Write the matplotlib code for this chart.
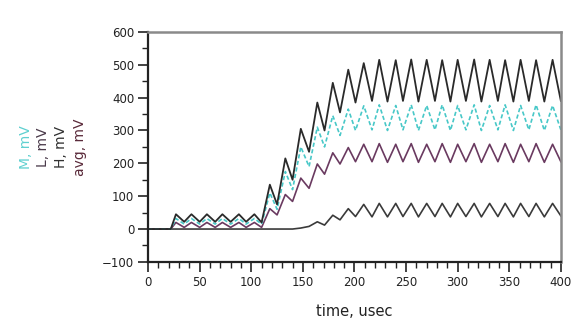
import matplotlib
matplotlib.use("Agg")
import matplotlib.pyplot as plt
from matplotlib.ticker import MultipleLocator

plt.rcParams['font.family'] = ['DejaVu Sans']

# vertex times (usec): start, then alternating peak / trough of the ripple
t = [0, 22,
     27, 35, 42, 50, 57, 65, 72, 80, 88, 95, 103, 110,
     118, 125, 133, 140, 148, 156, 164, 171, 179, 186, 194, 201,
     209, 217, 224, 232, 240, 247, 255, 262, 270, 278, 285, 293,
     300, 308, 316, 323, 331, 339, 346, 354, 361, 369, 376, 384, 392, 400]

h_mv = [0, 0,
        45, 22, 45, 22, 45, 22, 45, 22, 45, 22, 45, 20,
        135, 75, 215, 150, 305, 235, 385, 300, 445, 355, 485, 385,
        505, 390, 515, 388, 514, 390, 516, 388, 515, 390, 514, 388,
        515, 390, 516, 388, 515, 390, 514, 388, 515, 390, 514, 388, 515, 390]

m_mv = [0, 0,
        32, 15, 32, 15, 32, 15, 32, 15, 32, 15, 32, 15,
        110, 60, 175, 120, 250, 190, 310, 250, 345, 285, 365, 300,
        375, 302, 378, 300, 376, 302, 378, 300, 376, 302, 378, 300,
        376, 302, 378, 300, 376, 302, 378, 300, 376, 302, 378, 300, 376, 302]

avg_mv = [0, 0,
          20, 5, 20, 5, 20, 5, 20, 5, 20, 5, 20, 5,
          62, 43, 105, 84, 155, 124, 198, 167, 232, 198, 248, 205,
          258, 205, 260, 203, 258, 205, 260, 203, 258, 205, 260, 203,
          258, 205, 260, 203, 258, 205, 260, 203, 258, 205, 260, 203, 258, 205]

l_mv = [0, 0,
        0, 0, 0, 0, 0, 0, 0, 0, 0, 0, 0, 0,
        0, 0, 0, 0, 3, 8, 22, 12, 42, 28, 62, 38,
        75, 37, 78, 37, 78, 38, 78, 37, 78, 38, 78, 37,
        78, 38, 78, 37, 78, 38, 78, 37, 78, 38, 78, 37, 78, 40]

fig = plt.figure(figsize=(5.83, 3.29), dpi=100)
ax = fig.add_axes([0.254, 0.204, 0.708, 0.699])

ax.plot(t, l_mv, color='#3a3a3a', lw=1.2)
ax.plot(t, avg_mv, color='#6a3a60', lw=1.2)
ax.plot(t, m_mv, color='#48c8c8', lw=1.2, ls=(0, (2.5, 1.5)))
ax.plot(t, h_mv, color='#2a2a2a', lw=1.3)

ax.set_xlim(0, 400)
ax.set_ylim(-100, 600)
ax.xaxis.set_major_locator(MultipleLocator(50))
ax.xaxis.set_minor_locator(MultipleLocator(10))
ax.yaxis.set_major_locator(MultipleLocator(100))
ax.yaxis.set_minor_locator(MultipleLocator(50))
ax.tick_params(which='major', direction='out', length=7, width=1.2,
               labelsize=8.5, pad=3, colors='#222222')
ax.tick_params(which='minor', direction='out', length=4, width=1.0, colors='#222222')

for side in ['left', 'bottom']:
    ax.spines[side].set_color('#222222')
    ax.spines[side].set_linewidth(1.6)
for side in ['top', 'right']:
    ax.spines[side].set_color('#8a8a8a')
    ax.spines[side].set_linewidth(1.8)

ax.set_xlabel('time, usec', fontsize=10.5, labelpad=11, color='#222222')

# rotated series labels at the left
labels = ['M, mV', 'L, mV', 'H, mV', 'avg, mV']
label_colors = ['#5fd0d0', '#4a3a4a', '#303030', '#5a2a3a']
label_x = [26, 43, 61, 80]
for lab, col, x in zip(labels, label_colors, label_x):
    fig.text(x / 583, 1 - 147 / 329, lab, rotation=90, color=col,
             fontsize=10, ha='center', va='center')

fig.savefig('out.png', dpi=100)
